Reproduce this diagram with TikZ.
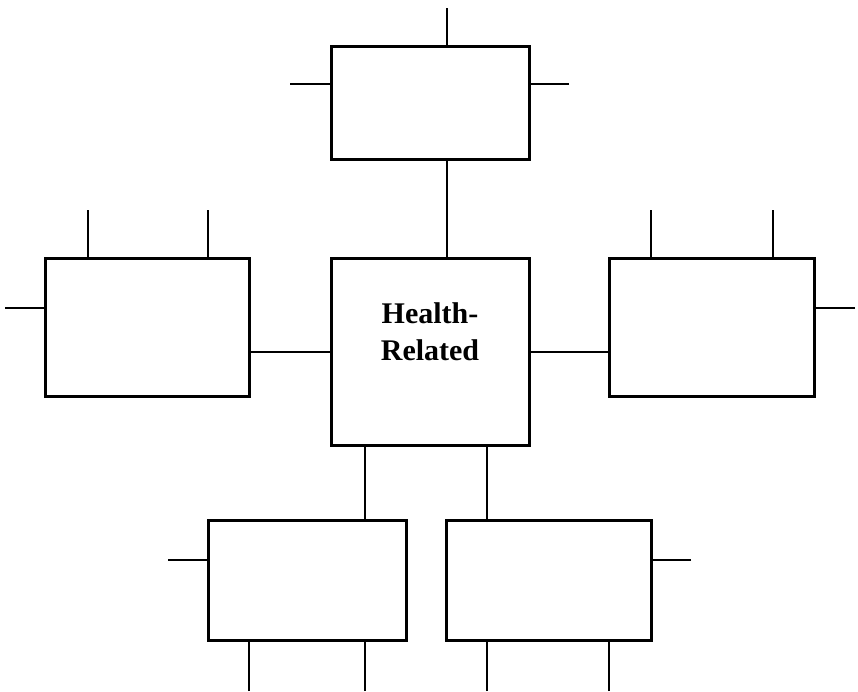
\documentclass[tikz,border=0pt]{standalone}
\usepackage{fontspec}
\setmainfont{Liberation Serif}

\begin{document}
\begin{tikzpicture}[x=1pt,y=-1pt,
  box/.style={draw,line width=3pt,inner sep=0pt},
  stub/.style={line width=2.2pt},
  link/.style={line width=2pt}]
\useasboundingbox (0,0) rectangle (858,691);

% boxes
\node[box,minimum width=198pt,minimum height=113pt] (top) at (430,102.5) {};
\node[box,minimum width=198pt,minimum height=187pt] (hr) at (430,351.5) {};
\node[box,minimum width=204pt,minimum height=138pt] (left) at (147,327) {};
\node[box,minimum width=205pt,minimum height=138pt] (right) at (711.5,327) {};
\node[box,minimum width=198pt,minimum height=120pt] (bl) at (307,580) {};
\node[box,minimum width=205pt,minimum height=120pt] (br) at (548.5,580) {};

\node[align=center,font=\fontsize{30}{37}\selectfont\bfseries] (hrtext) at (430,332) {Health-\\Related};

% free ends of the stubs
\coordinate (t1) at (447,8);
\coordinate (t2) at (290,84);
\coordinate (t3) at (569,84);
\coordinate (l1) at (88,210);
\coordinate (l2) at (208,210);
\coordinate (l3) at (5,308);
\coordinate (r1) at (651,210);
\coordinate (r2) at (773,210);
\coordinate (r3) at (855,308);
\coordinate (b1) at (168,560);
\coordinate (b2) at (249,691);
\coordinate (b3) at (365,691);
\coordinate (c1) at (691,560);
\coordinate (c2) at (487,691);
\coordinate (c3) at (609,691);

% stubs
\draw[stub] (t1) -- (t1 |- top.north);
\draw[stub] (t2) -- (t2 -| top.west);
\draw[stub] (t3) -- (t3 -| top.east);
\draw[stub] (l1) -- (l1 |- left.north);
\draw[stub] (l2) -- (l2 |- left.north);
\draw[stub] (l3) -- (l3 -| left.west);
\draw[stub] (r1) -- (r1 |- right.north);
\draw[stub] (r2) -- (r2 |- right.north);
\draw[stub] (r3) -- (r3 -| right.east);
\draw[stub] (b1) -- (b1 -| bl.west);
\draw[stub] (b2) -- (b2 |- bl.south);
\draw[stub] (b3) -- (b3 |- bl.south);
\draw[stub] (c1) -- (c1 -| br.east);
\draw[stub] (c2) -- (c2 |- br.south);
\draw[stub] (c3) -- (c3 |- br.south);

% links to the middle box
\draw[link] (t1 |- top.south) -- (t1 |- hr.north);
\draw[link] (hr.west) -- (hr.west -| left.east);
\draw[link] (hr.east) -- (hr.east -| right.west);
\draw[link] (b3 |- hr.south) -- (b3 |- bl.north);
\draw[link] (c2 |- hr.south) -- (c2 |- br.north);

\end{tikzpicture}
\end{document}
